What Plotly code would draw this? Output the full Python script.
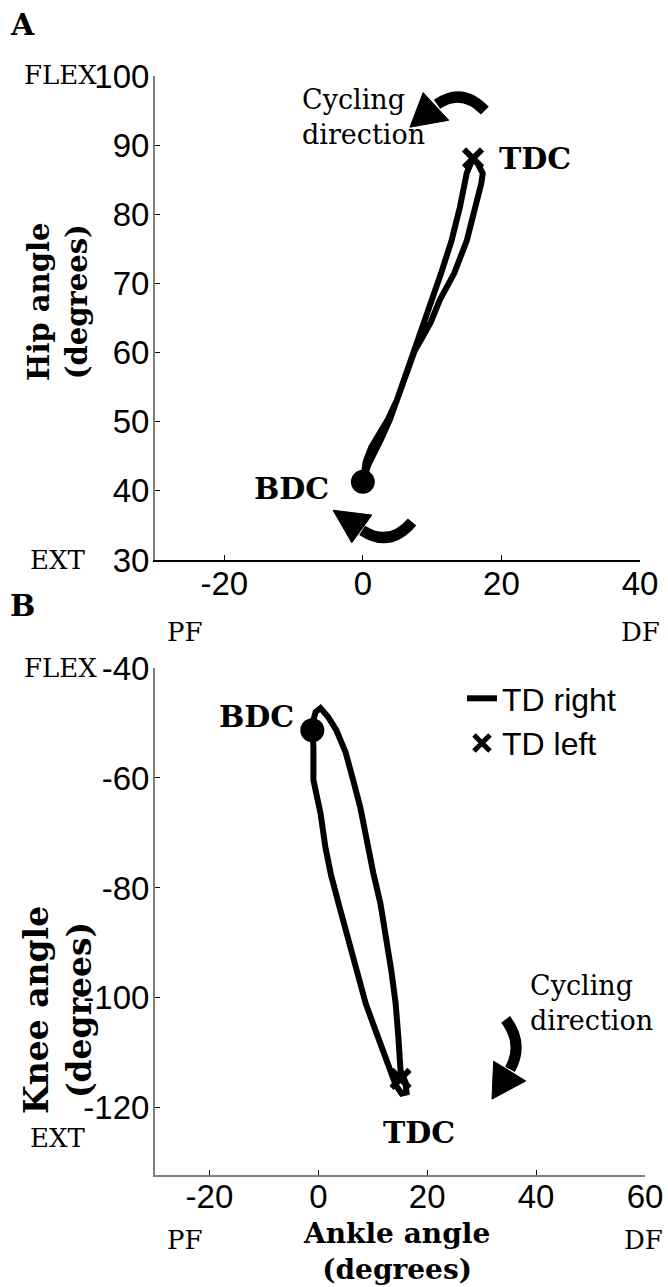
import plotly.graph_objects as go

# ---------------- data ----------------
# Panel A: hip angle vs ankle angle over one crank cycle (TD right leg)
hip_ankle = [15.9, 15.0, 14.0, 12.8, 11.3, 9.9, 8.6, 7.4, 6.1, 4.9, 3.6, 2.3, 1.2, 0.4, 0.0,
             0.8, 1.6, 2.7, 3.9, 4.9, 6.2, 7.5, 8.6, 9.8, 11.1, 13.2, 15.0, 16.3, 17.1, 17.3, 16.6, 15.9]
hip_angle = [88.1, 86.0, 81.0, 76.2, 71.5, 67.6, 63.8, 60.3, 56.5, 53.1, 50.3, 48.3, 46.3, 44.2, 41.3,
             43.8, 45.3, 47.6, 50.3, 53.1, 56.8, 60.3, 62.2, 64.4, 67.6, 71.5, 76.2, 81.0, 84.5, 85.9, 87.3, 88.1]

# Panel B: knee angle vs ankle angle over one crank cycle (TD right leg)
knee_ankle = [-1.1, -0.9, -0.9, 0.4, 1.3, 2.3, 3.7, 5.5, 7.0, 8.7, 10.5, 12.3, 13.3, 14.2, 15.3, 16.2, 16.0,
              15.1, 14.7, 14.2, 13.4, 12.5, 11.4, 10.1, 8.8, 7.7, 6.4, 5.0, 3.3, 1.8, 0.4, -0.5, -0.9, -1.1]
knee_angle = [-51.3, -54.4, -60.4, -66.4, -72.6, -77.5, -82.8, -89.0, -95.0, -101.0, -105.9, -110.9, -113.2,
              -115.8, -117.4, -117.2, -115.3,
              -113.2, -107.2, -101.0, -95.0, -89.0, -82.8, -77.3, -70.8, -65.3, -60.4, -55.3, -51.3, -48.9,
              -47.3, -48.0, -49.5, -51.3]

# Dead-centre events (ankle, hip) and (ankle, knee)
bdc_hip = (0.0, 41.3)
tdc_hip = (15.9, 88.1)
bdc_knee = (-1.1, -51.3)
tdc_knee = (15.1, -114.7)

# Tick values
hip_x_ticks = [-20, 0, 20, 40]
hip_y_ticks = [30, 40, 50, 60, 70, 80, 90, 100]
knee_x_ticks = [-20, 0, 20, 40, 60]
knee_y_ticks = [-120, -100, -80, -60, -40]

# ---------------- layout helpers ----------------
W, H = 668, 1287
TICK_FONT = dict(family="Liberation Sans, Arial, sans-serif", size=33, color="black")
SERIF = "DejaVu Serif, serif"


def px(x):
    return x / W


def py(y):
    return 1 - y / H


def labels(vals):
    # plain hyphen-minus, as in the printed figure
    return [str(v) for v in vals]


fig = go.Figure()

# Panel A traces
fig.add_trace(go.Scatter(x=hip_ankle, y=hip_angle, mode="lines",
                         line=dict(color="black", width=6), xaxis="x", yaxis="y",
                         showlegend=False))
fig.add_trace(go.Scatter(x=[bdc_hip[0]], y=[bdc_hip[1]], mode="markers",
                         marker=dict(symbol="circle", size=24, color="black"),
                         xaxis="x", yaxis="y", showlegend=False))
fig.add_trace(go.Scatter(x=[tdc_hip[0]], y=[tdc_hip[1]], mode="markers",
                         marker=dict(symbol="x-thin", size=18, line=dict(width=6, color="black")),
                         xaxis="x", yaxis="y", showlegend=False))

# Panel B traces
fig.add_trace(go.Scatter(x=knee_ankle, y=knee_angle, mode="lines", name="TD right",
                         line=dict(color="black", width=6), xaxis="x2", yaxis="y2"))
fig.add_trace(go.Scatter(x=[bdc_knee[0]], y=[bdc_knee[1]], mode="markers",
                         marker=dict(symbol="circle", size=24, color="black"),
                         xaxis="x2", yaxis="y2", showlegend=False))
fig.add_trace(go.Scatter(x=[tdc_knee[0]], y=[tdc_knee[1]], mode="markers", name="TD left",
                         marker=dict(symbol="x-thin", size=18, line=dict(width=6, color="black")),
                         xaxis="x2", yaxis="y2"))

axis_common = dict(showgrid=False, zeroline=False, showline=True, linewidth=2,
                   ticks="inside", ticklen=5, tickwidth=1, tickcolor="black",
                   tickfont=TICK_FONT, fixedrange=True, automargin=False)

fig.update_layout(
    template="none",
    width=W, height=H,
    margin=dict(l=0, r=0, t=0, b=0, autoexpand=False),
    paper_bgcolor="white", plot_bgcolor="white",
    xaxis=dict(domain=[px(155), px(640)], range=[-30, 40], tickvals=hip_x_ticks,
               ticktext=labels(hip_x_ticks), ticklabelstandoff=-7,
               anchor="y", linecolor="black", **axis_common),
    yaxis=dict(domain=[py(560), py(76)], range=[30, 100], tickvals=hip_y_ticks,
               ticktext=labels(hip_y_ticks), ticklabelstandoff=-3,
               anchor="x", linecolor="#808080", **axis_common),
    xaxis2=dict(domain=[px(155), px(645)], range=[-30, 60], tickvals=knee_x_ticks,
                ticktext=labels(knee_x_ticks), ticklabelstandoff=-9,
                anchor="y2", linecolor="#808080", **axis_common),
    yaxis2=dict(domain=[py(1175), py(668)], range=[-132.2, -40], tickvals=knee_y_ticks,
                ticktext=labels(knee_y_ticks), ticklabelstandoff=-3,
                anchor="x2", linecolor="#808080", **axis_common),
    legend=dict(x=px(462), y=py(671), xanchor="left", yanchor="top",
                font=dict(family="Liberation Sans, Arial, sans-serif", size=32, color="black"),
                bgcolor="rgba(0,0,0,0)", borderwidth=0, tracegroupgap=0, itemwidth=30),
    showlegend=True,
)

annotations = []


def note(text, x, y, size, bold=False, family=SERIF, xref="paper", yref="paper",
         angle=0, xanchor="center", align="center"):
    t = f"<b>{text}</b>" if bold else text
    annotations.append(dict(text=t, x=x, y=y, xref=xref, yref=yref, showarrow=False,
                            font=dict(family=family, size=size, color="black"),
                            textangle=angle, xanchor=xanchor, yanchor="middle", align=align))


# Panel letters
note("A", px(22), py(25), 30, bold=True)
note("B", px(22), py(605), 30, bold=True)

# Joint-direction labels
for yy_flex, yy_ext, yy_pf in [(75, 560, 632), (668, 1138, 1240)]:
    note("FLEX", px(60), py(yy_flex), 26)
    note("EXT", px(57), py(yy_ext), 26)
    note("PF", px(185), py(yy_pf), 26)
note("DF", px(640), py(632), 26)
note("DF", px(643), py(1240), 26)

# Axis titles
note("Hip angle<br>(degrees)", px(58), py(302), 29, bold=True, angle=-90)
note("Knee angle<br>(degrees)", px(58), py(1010), 33, bold=True, angle=-90)
note("Ankle angle<br>(degrees)", px(396), py(1251), 28, bold=True)

# Dead-centre labels
note("BDC", -10.3, 40.4, 30, bold=True, xref="x", yref="y")
note("TDC", 24.8, 88.1, 30, bold=True, xref="x", yref="y")
note("BDC", -11.4, -48.9, 30, bold=True, xref="x2", yref="y2")
note("TDC", 18.4, -124.4, 30, bold=True, xref="x2", yref="y2")

# Cycling direction captions
note("Cycling<br>direction", px(300), py(117), 27, xanchor="left", align="left")
note("Cycling<br>direction", px(528), py(1003), 27, xanchor="left", align="left")

fig.update_layout(annotations=annotations)

# Curved direction arrows: (start, control, end) of the body, then arrow head triangle
arrows = [
    ("x", "y", (17.6, 95.0), (14.3, 98.4), (10.7, 95.9), (8.7, 97.6), (12.4, 93.6), (6.8, 92.6)),
    ("x", "y", (7.1, 35.5), (3.9, 31.7), (-0.1, 34.3), (1.3, 36.5), (-1.6, 32.5), (-4.3, 37.2)),
    ("x2", "y2", (34.4, -103.9), (37.8, -108.4), (35.2, -113.0), (32.2, -111.5), (38.1, -115.1), (31.9, -118.4)),
]
shapes = []
for xr, yr, s, c, e, h1, h2, tip in arrows:
    shapes.append(dict(type="path", xref=xr, yref=yr,
                       path=f"M {s[0]},{s[1]} Q {c[0]},{c[1]} {e[0]},{e[1]}",
                       line=dict(color="black", width=11), fillcolor="rgba(0,0,0,0)"))
    shapes.append(dict(type="path", xref=xr, yref=yr,
                       path=f"M {h1[0]},{h1[1]} L {h2[0]},{h2[1]} L {tip[0]},{tip[1]} Z",
                       line=dict(color="black", width=1), fillcolor="black"))
fig.update_layout(shapes=shapes)

fig.write_html("out.html", config={"displayModeBar": False})
